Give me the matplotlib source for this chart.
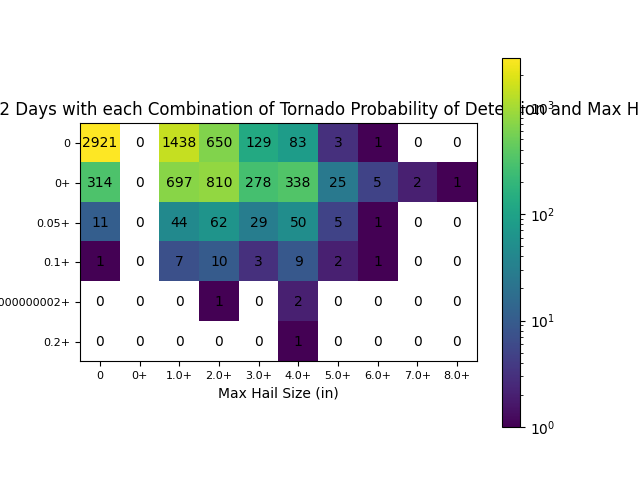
import numpy as np
import matplotlib
matplotlib.use("Agg")
import matplotlib.pyplot as plt
from matplotlib.colors import LogNorm

hail_labels = ["0", "0+", "1.0+", "2.0+", "3.0+", "4.0+", "5.0+", "6.0+", "7.0+", "8.0+"]
prob_labels = ["0", "0+", "0.05+", "0.1+", "0.15000000000000002+", "0.2+"]

row_0 = [2921, 0, 1438, 650, 129, 83, 3, 1, 0, 0]
row_0_plus = [314, 0, 697, 810, 278, 338, 25, 5, 2, 1]
row_05 = [11, 0, 44, 62, 29, 50, 5, 1, 0, 0]
row_10 = [1, 0, 7, 10, 3, 9, 2, 1, 0, 0]
row_15 = [0, 0, 0, 1, 0, 2, 0, 0, 0, 0]
row_20 = [0, 0, 0, 0, 0, 1, 0, 0, 0, 0]

counts = np.array([row_0, row_0_plus, row_05, row_10, row_15, row_20])

fig, ax = plt.subplots(figsize=(6.4, 4.8), dpi=100)

# zeros stay white on the log scale
im = ax.imshow(np.ma.masked_equal(counts, 0), norm=LogNorm(vmin=1, vmax=counts.max()), cmap="viridis")
fig.colorbar(im)

for i in range(counts.shape[0]):
    for j in range(counts.shape[1]):
        ax.text(j, i, str(counts[i, j]), ha="center", va="center", color="black")

ax.set_xticks(np.arange(len(hail_labels)))
ax.set_xticklabels(hail_labels, fontsize=8)
ax.set_yticks(np.arange(len(prob_labels)))
ax.set_yticklabels(prob_labels, fontsize=8)
ax.set_xlabel("Max Hail Size (in)")
ax.set_title("Number of 2012-2022 Days with each Combination of Tornado Probability of Detection and Max Hail Size (in)")

fig.savefig("out.png", dpi=100)
